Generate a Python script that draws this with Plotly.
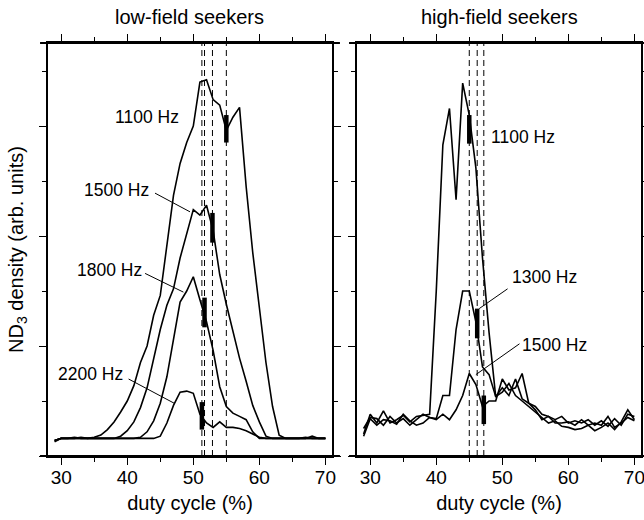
import plotly.graph_objects as go

duty = list(range(29, 71))

# low-field seekers
lf_1100 = [0.13, 0.16, 0.16, 0.17, 0.16, 0.16, 0.17, 0.19, 0.24, 0.31, 0.40, 0.50, 0.64, 0.85, 1.00, 1.28,
           1.46, 1.92, 2.37, 2.66, 2.85, 3.00, 3.40, 3.42, 3.24, 3.19, 2.96, 3.08, 3.17, 2.45, 1.85, 1.35,
           0.85, 0.45, 0.19, 0.16, 0.16, 0.16, 0.16, 0.18, 0.16, 0.16]
lf_1500 = [0.14, 0.16, 0.16, 0.16, 0.17, 0.16, 0.16, 0.16, 0.16, 0.16, 0.18, 0.23, 0.31, 0.44, 0.62, 0.88,
           1.15, 1.37, 1.52, 1.80, 2.02, 2.24, 2.19, 2.28, 2.05, 1.65, 1.38, 1.13, 0.89, 0.68, 0.46, 0.31,
           0.18, 0.16, 0.16, 0.16, 0.16, 0.16, 0.17, 0.16, 0.16, 0.16]
lf_1800 = [0.14, 0.16, 0.16, 0.16, 0.16, 0.16, 0.16, 0.16, 0.16, 0.16, 0.16, 0.16, 0.16, 0.17, 0.22, 0.32,
           0.48, 0.72, 1.05, 1.40, 1.50, 1.63, 1.42, 1.22, 0.96, 0.63, 0.45, 0.39, 0.36, 0.33, 0.22, 0.16,
           0.16, 0.16, 0.16, 0.16, 0.16, 0.16, 0.16, 0.16, 0.16, 0.16]
lf_2200 = [0.14, 0.16, 0.16, 0.16, 0.16, 0.16, 0.16, 0.16, 0.16, 0.16, 0.16, 0.16, 0.16, 0.16, 0.16, 0.16,
           0.18, 0.30, 0.46, 0.58, 0.59, 0.57, 0.38, 0.30, 0.26, 0.31, 0.26, 0.26, 0.25, 0.23, 0.20, 0.17,
           0.16, 0.16, 0.16, 0.16, 0.16, 0.16, 0.16, 0.16, 0.16, 0.16]

# high-field seekers
hf_1100 = [0.20, 0.38, 0.30, 0.41, 0.30, 0.33, 0.37, 0.31, 0.36, 0.37, 0.38, 1.50, 2.83, 3.16, 2.33, 3.39,
           3.10, 2.62, 1.80, 1.12, 0.54, 0.62, 0.55, 0.70, 0.52, 0.48, 0.42, 0.33, 0.36, 0.30, 0.30, 0.31,
           0.28, 0.33, 0.28, 0.30, 0.28, 0.36, 0.26, 0.30, 0.35, 0.32]
hf_1300 = [0.25, 0.35, 0.34, 0.28, 0.36, 0.30, 0.34, 0.28, 0.33, 0.38, 0.35, 0.34, 0.55, 0.55, 1.15, 1.50,
           1.50, 1.22, 0.81, 0.74, 0.54, 0.58, 0.66, 0.55, 0.50, 0.45, 0.40, 0.35, 0.30, 0.32, 0.27, 0.26,
           0.24, 0.25, 0.28, 0.23, 0.26, 0.30, 0.24, 0.31, 0.42, 0.33]
hf_1500 = [0.18, 0.34, 0.28, 0.33, 0.32, 0.29, 0.38, 0.32, 0.28, 0.30, 0.35, 0.33, 0.38, 0.33, 0.42, 0.55,
           0.75, 0.65, 0.45, 0.50, 0.50, 0.70, 0.60, 0.62, 0.75, 0.48, 0.45, 0.38, 0.36, 0.33, 0.36, 0.30,
           0.32, 0.30, 0.33, 0.28, 0.32, 0.27, 0.34, 0.28, 0.38, 0.36]

# markers (dashed line positions and thick bars)
lf_mark_x = [55.0, 52.9, 51.7, 51.3]
lf_bar_lo = [2.85, 1.94, 1.17, 0.24]
lf_bar_hi = [3.10, 2.21, 1.44, 0.49]
hf_mark_x = [45.0, 46.2, 47.2]
hf_bar_lo = [2.84, 1.07, 0.29]
hf_bar_hi = [3.10, 1.34, 0.55]

# labels
lf_labels = ["1100 Hz", "1500 Hz", "1800 Hz", "2200 Hz"]
lf_label_x = [43.0, 38.3, 37.3, 34.5]
lf_label_y = [3.08, 2.42, 1.69, 0.75]
lf_lead = [None, (44.2, 2.39, 49.5, 2.22), (42.7, 1.66, 48.5, 1.49), (40.2, 0.70, 47.1, 0.48)]
hf_labels = ["1100 Hz", "1300 Hz", "1500 Hz"]
hf_label_x = [53.1, 56.4, 57.9]
hf_label_y = [2.90, 1.63, 1.01]
hf_lead = [None, (50.8, 1.52, 46.5, 1.34), (52.6, 1.02, 46.0, 0.74)]

FONT = "Liberation Sans, Arial, sans-serif"
W, H = 644, 520
fig = go.Figure()

for ys in [lf_1100, lf_1500, lf_1800, lf_2200]:
    fig.add_trace(go.Scatter(x=duty, y=ys, mode="lines", line=dict(color="black", width=1.6),
                             xaxis="x", yaxis="y", showlegend=False))
for ys in [hf_1100, hf_1300, hf_1500]:
    fig.add_trace(go.Scatter(x=duty, y=ys, mode="lines", line=dict(color="black", width=1.6),
                             xaxis="x2", yaxis="y2", showlegend=False))

shapes = []
annos = []
for xa, ya, mx, lo, hi, labs, lx, ly, leads in [
    ("x", "y", lf_mark_x, lf_bar_lo, lf_bar_hi, lf_labels, lf_label_x, lf_label_y, lf_lead),
    ("x2", "y2", hf_mark_x, hf_bar_lo, hf_bar_hi, hf_labels, hf_label_x, hf_label_y, hf_lead)]:
    for xv, a, b in zip(mx, lo, hi):
        shapes.append(dict(type="line", xref=xa, yref=ya + " domain", x0=xv, x1=xv, y0=0, y1=1,
                           line=dict(color="black", width=1, dash="6px,4px")))
        shapes.append(dict(type="line", xref=xa, yref=ya, x0=xv, x1=xv, y0=a, y1=b,
                           line=dict(color="black", width=4.5)))
    for t, px, py, ld in zip(labs, lx, ly, leads):
        annos.append(dict(text=t, x=px, y=py, xref=xa, yref=ya, showarrow=False,
                          font=dict(family=FONT, size=17.5, color="black")))
        if ld:
            shapes.append(dict(type="line", xref=xa, yref=ya, x0=ld[0], y0=ld[1], x1=ld[2], y1=ld[3],
                               line=dict(color="black", width=1)))
    # horizontal frame lines extending past the frame
    for yv in [0, 1]:
        shapes.append(dict(type="line", xref=xa + " domain", yref=ya + " domain", x0=-0.028, x1=1.028,
                           y0=yv, y1=yv, line=dict(color="black", width=1.8)))

for xa, t in [("x", "low-field seekers"), ("x2", "high-field seekers")]:
    annos.append(dict(text=t, x=0.5, y=1 - 17 / H, xref=xa + " domain", yref="paper", showarrow=False,
                      yanchor="middle", font=dict(family=FONT, size=20, color="black")))

xcommon = dict(range=[28, 71], tick0=30, dtick=10, ticks="outside", ticklen=7, tickwidth=1.2,
               tickcolor="black", showline=True, linewidth=1.8, linecolor="black", mirror="ticks",
               minor=dict(tick0=25, dtick=5, ticks="outside", ticklen=4, tickwidth=1.2, tickcolor="black"),
               showgrid=False, zeroline=False, automargin=False, ticklabeloverflow="allow",
               tickfont=dict(family=FONT, size=19, color="black"), ticklabelstandoff=-4,
               title=dict(text="duty cycle (%)", font=dict(family=FONT, size=20, color="black"), standoff=9))
ycommon = dict(range=[0, 3.755], tick0=0, dtick=1, ticks="outside", ticklen=7, tickwidth=1.2,
               tickcolor="black", showline=True, linewidth=1.8, linecolor="black", mirror="ticks",
               minor=dict(tick0=0, dtick=0.5, ticks="outside", ticklen=4, tickwidth=1.2, tickcolor="black"),
               showgrid=False, zeroline=False, showticklabels=False, automargin=False)

fig.update_layout(
    width=W, height=H, margin=dict(l=0, r=0, t=0, b=0),
    paper_bgcolor="white", plot_bgcolor="white",
    xaxis=dict(domain=[48 / W, 332 / W], anchor="y", **xcommon),
    xaxis2=dict(domain=[357 / W, 641 / W], anchor="y2", **xcommon),
    yaxis=dict(domain=[64 / H, 477 / H], anchor="x",
               title=dict(text="ND<sub>3</sub> density (arb. units)",
                          font=dict(family=FONT, size=20, color="black"), standoff=10),
               **ycommon),
    yaxis2=dict(domain=[64 / H, 477 / H], anchor="x2", **ycommon),
    shapes=shapes, annotations=annos, font=dict(family=FONT, color="black"),
)

fig.write_html("out.html")
